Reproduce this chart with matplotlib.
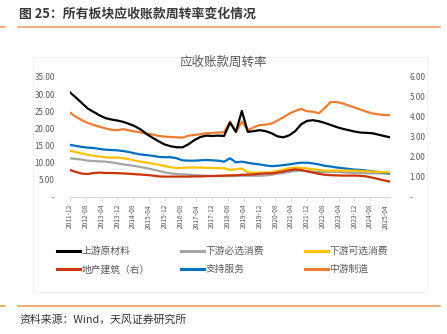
import matplotlib
matplotlib.use('Agg')
import matplotlib.pyplot as plt
from matplotlib.lines import Line2D
from matplotlib.patches import Rectangle
from matplotlib.ticker import FuncFormatter

plt.rcParams['font.family'] = ['Noto Sans CJK SC', 'DejaVu Sans']

# ---------------- data ----------------
dates = ['2011-12'] + [f'{y}-{m:02d}' for y in range(2012, 2026) for m in (3, 6, 9, 12)
                       if not (y == 2025 and m > 6)]

upstream = [30.5, 29.0, 27.4, 25.8, 24.8, 23.8, 23.0, 22.6, 22.3, 21.9,
            21.3, 20.6, 19.6, 18.3, 17.2, 16.2, 15.3, 14.8, 14.5, 14.5,
            15.4, 16.6, 17.5, 17.9, 17.8, 17.9, 17.8, 21.7, 19.0, 25.1,
            19.0, 19.2, 19.5, 19.2, 18.6, 17.7, 17.4, 18.0, 19.2, 21.2,
            22.2, 22.4, 22.1, 21.6, 21.0, 20.4, 19.9, 19.5, 19.1, 18.8,
            18.7, 18.6, 18.2, 17.8, 17.4]
staples = [11.3, 11.1, 10.9, 10.6, 10.5, 10.4, 10.3, 10.1, 9.8, 9.5,
           9.3, 9.0, 8.7, 8.4, 8.0, 7.6, 7.2, 6.9, 6.7, 6.6,
           6.5, 6.4, 6.3, 6.2, 6.1, 6.1, 6.1, 6.1, 6.1, 6.2,
           6.2, 6.2, 6.2, 6.3, 6.5, 6.8, 7.0, 7.3, 7.6, 7.7,
           7.6, 7.4, 7.3, 7.3, 7.3, 7.3, 7.2, 7.1, 7.0, 7.0,
           6.9, 6.9, 6.9, 6.9, 6.9]
discretionary = [13.5, 13.1, 12.7, 12.3, 12.0, 11.8, 11.6, 11.5, 11.5, 11.3,
                 11.0, 10.6, 10.3, 10.0, 9.7, 9.4, 9.0, 8.7, 8.4, 8.5,
                 8.6, 8.6, 8.6, 8.5, 8.5, 8.4, 8.4, 7.9, 8.1, 8.3,
                 7.2, 7.1, 7.1, 7.1, 7.3, 7.6, 8.0, 8.4, 8.6, 8.5,
                 8.3, 8.1, 7.9, 7.7, 7.7, 7.7, 7.7, 7.7, 7.7, 7.6,
                 7.5, 7.4, 7.3, 7.2, 7.2]
realestate = [1.35, 1.25, 1.17, 1.15, 1.20, 1.22, 1.20, 1.20, 1.19, 1.18,
              1.16, 1.14, 1.12, 1.10, 1.07, 1.03, 1.02, 1.02, 1.02, 1.02,
              1.02, 1.03, 1.03, 1.04, 1.05, 1.06, 1.07, 1.08, 1.09, 1.11,
              1.12, 1.13, 1.16, 1.18, 1.18, 1.22, 1.28, 1.34, 1.38, 1.35,
              1.28, 1.22, 1.16, 1.11, 1.09, 1.08, 1.07, 1.07, 1.07, 1.06,
              1.03, 0.97, 0.90, 0.83, 0.77]
services = [15.2, 14.9, 14.6, 14.4, 14.3, 14.0, 13.8, 13.7, 13.6, 13.4,
            13.1, 12.7, 12.4, 12.2, 12.0, 11.7, 11.6, 11.6, 11.3, 10.7,
            10.6, 10.6, 10.7, 10.8, 10.7, 10.6, 10.3, 11.3, 10.1, 10.3,
            10.0, 9.7, 9.5, 9.2, 9.0, 9.1, 9.3, 9.5, 9.8, 10.0,
            10.0, 9.8, 9.5, 9.1, 8.9, 8.6, 8.4, 8.2, 8.0, 7.9,
            7.7, 7.5, 7.3, 7.0, 6.8]
midstream = [24.6, 23.4, 22.4, 21.6, 21.0, 20.5, 20.0, 19.6, 19.5, 19.8,
             19.4, 19.1, 18.8, 18.5, 18.2, 17.8, 17.6, 17.5, 17.4, 17.3,
             17.9, 18.1, 18.3, 18.6, 18.7, 18.8, 18.9, 22.0, 19.0, 22.0,
             19.5, 20.3, 21.0, 21.1, 21.4, 22.3, 23.2, 24.3, 25.1, 25.7,
             25.0, 24.9, 24.4, 26.0, 27.7, 27.7, 27.3, 26.7, 26.1, 25.5,
             24.9, 24.4, 24.1, 23.9, 23.9]

xtick_labels = ['2011-12', '2012-08', '2013-04', '2013-12', '2014-08', '2015-04',
                '2015-12', '2016-08', '2017-04', '2017-12', '2018-08', '2019-04',
                '2019-12', '2020-08', '2021-04', '2021-12', '2022-08', '2023-04',
                '2023-12', '2024-08', '2025-04']
left_ticks = [0, 5, 10, 15, 20, 25, 30, 35]
right_ticks = [0, 1, 2, 3, 4, 5, 6]

names = ['上游原材料', '下游必选消费', '下游可选消费', '地产建筑（右）', '支持服务', '中游制造']
colors = ['#000000', '#A5A5A5', '#FFC000', '#C9340A', '#0070C0', '#ED7D31']


def month_index(s):
    y, m = s.split('-')
    return (int(y) - 2011) * 12 + int(m) - 12


x = [month_index(d) for d in dates]
xt = [month_index(d) for d in xtick_labels]

# ---------------- figure ----------------
W, H = 447, 334
fig = plt.figure(figsize=(W / 100, H / 100), dpi=100)


def fx(px):
    return px / W


def fy(py):
    return 1 - py / H


ax_l, ax_r, ax_t, ax_b = 70, 390, 77, 197
ax = fig.add_axes([fx(ax_l), fy(ax_b), fx(ax_r - ax_l), (ax_b - ax_t) / H])
ax2 = ax.twinx()

lw = 1.6
ax.plot(x, midstream, color=colors[5], lw=lw, zorder=3)
ax.plot(x, upstream, color=colors[0], lw=lw, zorder=4)
ax.plot(x, services, color=colors[4], lw=lw, zorder=3)
ax.plot(x, discretionary, color=colors[2], lw=lw, zorder=3)
ax.plot(x, staples, color=colors[1], lw=lw, zorder=2)
ax2.plot(x, realestate, color=colors[3], lw=lw, zorder=3)

ax.set_xlim(0, month_index(dates[-1]))
ax.set_ylim(0, 35)
ax2.set_ylim(0, 6)
ax.set_yticks(left_ticks)
ax2.set_yticks(right_ticks)
fmt = FuncFormatter(lambda v, p: '-' if abs(v) < 1e-9 else f'{v:.2f}')
ax.yaxis.set_major_formatter(fmt)
ax2.yaxis.set_major_formatter(fmt)

ax.set_xticks(xt)
ax.set_xticklabels(xtick_labels, rotation=90, fontsize=4.8, color='#595959')

for a in (ax, ax2):
    for s in ('top', 'left', 'right'):
        a.spines[s].set_visible(False)
    a.spines['bottom'].set_color('#D9D9D9')
    a.spines['bottom'].set_linewidth(0.8)
    a.set_facecolor('none')

ax.tick_params(axis='x', direction='out', length=3, width=0.6, color='#D9D9D9', pad=2)
ax.tick_params(axis='y', length=0, labelsize=5.8, labelcolor='#595959', pad=11)
ax2.tick_params(axis='y', length=0, labelsize=5.8, labelcolor='#595959', pad=14)

# chart title
fig.text(0.5, fy(62), '应收账款周转率', ha='center', va='center', fontsize=9, color='#595959')

# chart area border
fig.patches.append(Rectangle((fx(33), fy(292)), fx(427 - 33), (292 - 57) / H,
                             transform=fig.transFigure, fill=False, ec='#EFEFEF', lw=0.6))

# legend (three columns)
cols = [[0, 3], [1, 4], [2, 5]]
col_x = [57, 181, 305]
for cx, idxs in zip(col_x, cols):
    handles = [Line2D([0], [0], color=colors[i], lw=2.2) for i in idxs]
    labels = [names[i] for i in idxs]
    fig.legend(handles, labels, loc='upper left', bbox_to_anchor=(fx(cx), fy(246)),
               frameon=False, fontsize=7, handlelength=2.4, handletextpad=0.1,
               labelspacing=0.85, borderpad=0, borderaxespad=0, labelcolor='#595959')

# header
fig.text(fx(19), fy(13), '图 25：所有板块应收账款周转率变化情况', ha='left', va='center',
         fontsize=9.3, fontweight='bold', color='#3A3A3A')
orange = '#F0A060'
for yy in (26.7, 305.5):
    fig.add_artist(Line2D([fx(0), fx(5)], [fy(yy), fy(yy)], color=orange, lw=1.2))
    fig.add_artist(Line2D([fx(18), fx(440)], [fy(yy), fy(yy)], color=orange, lw=1.2))

fig.text(fx(19), fy(320), '资料来源：Wind，天风证券研究所', ha='left', va='center',
         fontsize=7.8, color='#333333')

fig.savefig('out.png', dpi=100)
